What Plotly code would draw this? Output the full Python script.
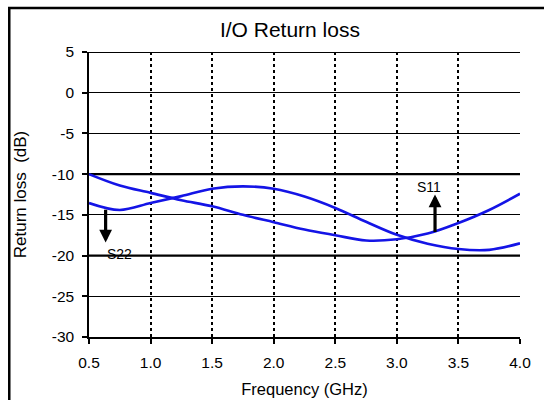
import plotly.graph_objects as go

# ---- data ----
freq = [0.5, 0.75, 1.0, 1.25, 1.5, 1.75, 2.0, 2.25, 2.5, 2.75, 3.0, 3.25, 3.5, 3.75, 4.0]
s11 = [-10.0, -11.4, -12.3, -13.2, -13.95, -15.0, -15.9, -16.8, -17.5, -18.15, -18.0, -17.3, -16.0, -14.4, -12.4]
s22 = [-13.55, -14.4, -13.55, -12.7, -11.8, -11.5, -11.8, -12.75, -14.15, -15.85, -17.45, -18.55, -19.2, -19.3, -18.5]

x_ticks = [0.5, 1.0, 1.5, 2.0, 2.5, 3.0, 3.5, 4.0]
x_tick_labels = ["0.5", "1.0", "1.5", "2.0", "2.5", "3.0", "3.5", "4.0"]
y_ticks = [5, 0, -5, -10, -15, -20, -25, -30]
y_tick_labels = ["5", "0", "-5", "-10", "-15", "-20", "-25", "-30"]
heavy_grid = [5, -10, -20]

labels = ["S22", "S11"]
label_x = [0.745, 3.265]
label_y = [-19.8, -11.6]
arrow_x = [0.635, 3.31]
arrow_tail_y = [-14.2, -17.3]
arrow_head_y = [-18.4, -12.5]

fig = go.Figure()
line_style = dict(color="#1414e6", width=2.6, shape="spline", smoothing=1.0)
fig.add_trace(go.Scatter(x=freq, y=s11, mode="lines", line=line_style, name="S11"))
fig.add_trace(go.Scatter(x=freq, y=s22, mode="lines", line=line_style, name="S22"))

for yv in heavy_grid:
    fig.add_shape(type="line", xref="x", yref="y", x0=x_ticks[0], x1=x_ticks[-1],
                  y0=yv, y1=yv, line=dict(color="black", width=2.2), layer="below")

annotations = []
for i in range(len(labels)):
    annotations.append(dict(x=arrow_x[i], y=arrow_head_y[i], ax=arrow_x[i], ay=arrow_tail_y[i],
                            xref="x", yref="y", axref="x", ayref="y", text="",
                            showarrow=True, arrowhead=2, arrowsize=0.8, arrowwidth=3.2,
                            arrowcolor="black"))
    annotations.append(dict(x=label_x[i], y=label_y[i], xref="x", yref="y", text=labels[i],
                            showarrow=False, font=dict(family="Arial", size=14, color="black")))

# outer frame (left and top edges)
fig.add_shape(type="path", xref="paper", yref="paper",
              path="M -0.185,-0.3 L -0.185,1.154 L 1.2,1.154",
              line=dict(color="black", width=2.5))

fig.update_layout(
    width=544, height=400,
    margin=dict(l=89, r=24, t=52, b=63),
    paper_bgcolor="white", plot_bgcolor="white",
    showlegend=False,
    font=dict(family="Arial", color="black", size=15),
    title=dict(text="I/O Return loss", x=0.533, xref="container", xanchor="center",
               y=0.925, yref="container", yanchor="middle",
               font=dict(family="Arial", size=21, color="black")),
    annotations=annotations,
)
fig.update_xaxes(range=[0.5, 4.0], tickvals=x_ticks, ticktext=x_tick_labels,
                 showgrid=True, gridcolor="black", gridwidth=1.5, griddash="dot",
                 showline=True, linecolor="black", linewidth=1.5,
                 ticks="outside", ticklen=5, tickcolor="black", tickwidth=1.5,
                 ticklabelstandoff=6, tickfont=dict(size=15.5),
                 zeroline=False, automargin=False,
                 title=dict(text="Frequency (GHz)", standoff=13, font=dict(size=16.5)))
fig.update_yaxes(range=[-30, 5], tickvals=y_ticks, ticktext=y_tick_labels,
                 showgrid=True, gridcolor="black", gridwidth=1.2,
                 showline=True, linecolor="black", linewidth=1.5,
                 ticks="outside", ticklen=5, tickcolor="black", tickwidth=1.5,
                 ticklabelstandoff=5, tickfont=dict(size=15.5),
                 zeroline=False, automargin=False,
                 title=dict(text="Return loss  (dB)", standoff=21, font=dict(size=17)))

fig.write_html("out.html", config={"displayModeBar": False},
               post_script="document.body.style.margin='0';")
